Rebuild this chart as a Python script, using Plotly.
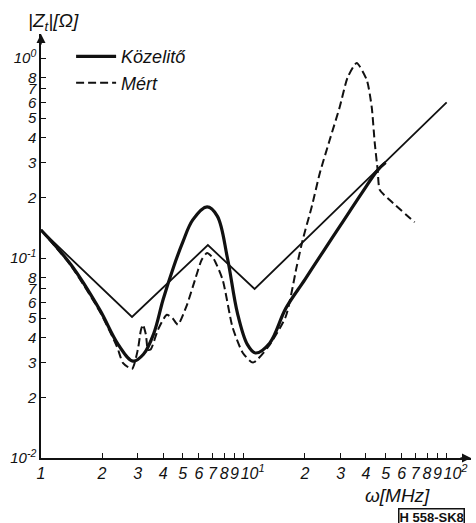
import plotly.graph_objects as go

# ---- data ----
asym_x = [1, 2.81, 6.65, 11.3, 100]
asym_y = [0.138, 0.0507, 0.116, 0.070, 0.60]

kozel_x = [1, 1.4, 1.95, 2.4, 2.84, 3.2, 3.6, 4.0, 4.5, 5.0, 5.6, 6.59, 7.4, 8.3,
           9.3, 10.4, 11.4, 13.4, 16.1, 20, 24.8, 30, 38, 45.7, 50]
kozel_y = [0.138, 0.093, 0.055, 0.037, 0.0305, 0.033, 0.042, 0.062, 0.09, 0.12,
           0.155, 0.180, 0.162, 0.10, 0.053, 0.037, 0.0335, 0.0375, 0.056, 0.078,
           0.109, 0.146, 0.21, 0.275, 0.30]

mert_x = [1, 1.4, 1.95, 2.37, 2.54, 2.81, 3.0, 3.11, 3.18, 3.29, 3.37, 3.48, 3.77,
          4.17, 4.45, 4.73, 5.24, 5.74, 6.2, 6.59, 7.1, 7.87, 8.8, 9.89, 11.1, 13.2, 16.1,
          18.2, 19.5, 21.6, 23.7, 26.5, 29.7, 32.5, 36.0, 40.4, 42.7, 44.2, 45.7, 46.8,
          52.4, 69.5]
mert_y = [0.138, 0.092, 0.054, 0.036, 0.0298, 0.0279, 0.0347, 0.0437, 0.0464,
          0.0414, 0.0347, 0.035, 0.0437, 0.052, 0.050, 0.0464, 0.0582, 0.0776, 0.098,
          0.106, 0.099, 0.0776, 0.045, 0.0335, 0.030, 0.036, 0.051, 0.090, 0.123, 0.18,
          0.266, 0.389, 0.569, 0.80, 0.944, 0.776, 0.569, 0.376, 0.275, 0.219, 0.195, 0.151]

NB = "\u00a0\u00a0\u00a0\u00a0"
x_tickvals = [1, 2, 3, 4, 5, 6, 7, 8, 9, 10, 20, 30, 40, 50, 60, 70, 80, 90, 100]
x_ticktext = ["1", "2", "3", "4", "5", "6", "7", "8", "9", NB + "10<sup>1</sup>",
              "2", "3", "4", "5", "6", "7", "8", "9", NB + "10<sup>2</sup>"]
y_tickvals = [0.01, 0.02, 0.03, 0.04, 0.05, 0.06, 0.07, 0.08, 0.1,
              0.2, 0.3, 0.4, 0.5, 0.6, 0.7, 0.8, 1.0]
y_ticktext = ["10<sup>-2</sup>", "2", "3", "4", "5", "6", "7", "8", "10<sup>-1</sup>",
              "2", "3", "4", "5", "6", "7", "8", "10<sup>0</sup>"]

FONT = "Liberation Sans"
INK = "#111111"

fig = go.Figure()
fig.add_trace(go.Scatter(x=asym_x, y=asym_y, mode="lines", showlegend=False,
                         line=dict(color=INK, width=1.8)))
fig.add_trace(go.Scatter(x=kozel_x, y=kozel_y, mode="lines", name="Közelitő",
                         line=dict(color=INK, width=3.2, shape="spline", smoothing=1.0)))
fig.add_trace(go.Scatter(x=mert_x, y=mert_y, mode="lines", name="Mért",
                         line=dict(color=INK, width=2, dash="8px,4px",
                                   shape="spline", smoothing=0.6)))

fig.update_xaxes(type="log", range=[0, 2.12], tickvals=x_tickvals, ticktext=x_ticktext,
                 automargin=False, tickangle=0,
                 showgrid=False, zeroline=False, showline=True, linecolor=INK, linewidth=1.5,
                 ticks="inside", ticklen=5, tickcolor=INK, tickwidth=1,
                 tickfont=dict(family=FONT, size=16, color=INK, style="italic"))
fig.update_yaxes(type="log", range=[-2, 0.12], tickvals=y_tickvals, ticktext=y_ticktext,
                 automargin=False,
                 showgrid=False, zeroline=False, showline=True, linecolor=INK, linewidth=1.5,
                 ticks="inside", ticklen=5, tickcolor=INK, tickwidth=1,
                 tickfont=dict(family=FONT, size=15, color=INK, style="italic"))

fig.update_layout(
    width=476, height=523,
    margin=dict(l=41, r=5, t=34, b=65),
    paper_bgcolor="white", plot_bgcolor="white",
    showlegend=True,
    legend=dict(x=0.07, y=0.99, xanchor="left", yanchor="top",
                bgcolor="rgba(0,0,0,0)",
                font=dict(family=FONT, size=18, color=INK, style="italic"),
                itemwidth=40, tracegroupgap=0),
    annotations=[
        dict(xref="paper", yref="paper", x=-0.035, y=1.062, xanchor="left", yanchor="top",
             text="|Z<sub>t</sub>|[Ω]", showarrow=False,
             font=dict(family=FONT, size=19, color=INK, style="italic")),
        dict(xref="paper", yref="paper", x=0.83, y=-0.058, xanchor="center", yanchor="top",
             text="ω[MHz]", showarrow=False,
             font=dict(family=FONT, size=19, color=INK, style="italic")),
        dict(xref="paper", yref="paper", x=0.985, y=-0.118, xanchor="right", yanchor="top",
             text="<b>H 558-SK8</b>", showarrow=False, bordercolor=INK, borderwidth=1.5,
             borderpad=0, font=dict(family=FONT, size=13, color=INK)),
        # axis arrows
        dict(xref="paper", yref="paper", x=0, y=1.0, ax=0, ay=12,
             showarrow=True, arrowhead=2, arrowsize=1.2,
             arrowwidth=1.5, arrowcolor=INK, text=""),
        dict(xref="paper", yref="paper", x=1.0, y=0, ax=-12, ay=0,
             showarrow=True, arrowhead=2, arrowsize=1.2,
             arrowwidth=1.5, arrowcolor=INK, text=""),
    ],
)

fig.write_html("out.html", config={"displayModeBar": False},
               post_script="document.body.style.margin='0';document.body.style.padding='0';")
